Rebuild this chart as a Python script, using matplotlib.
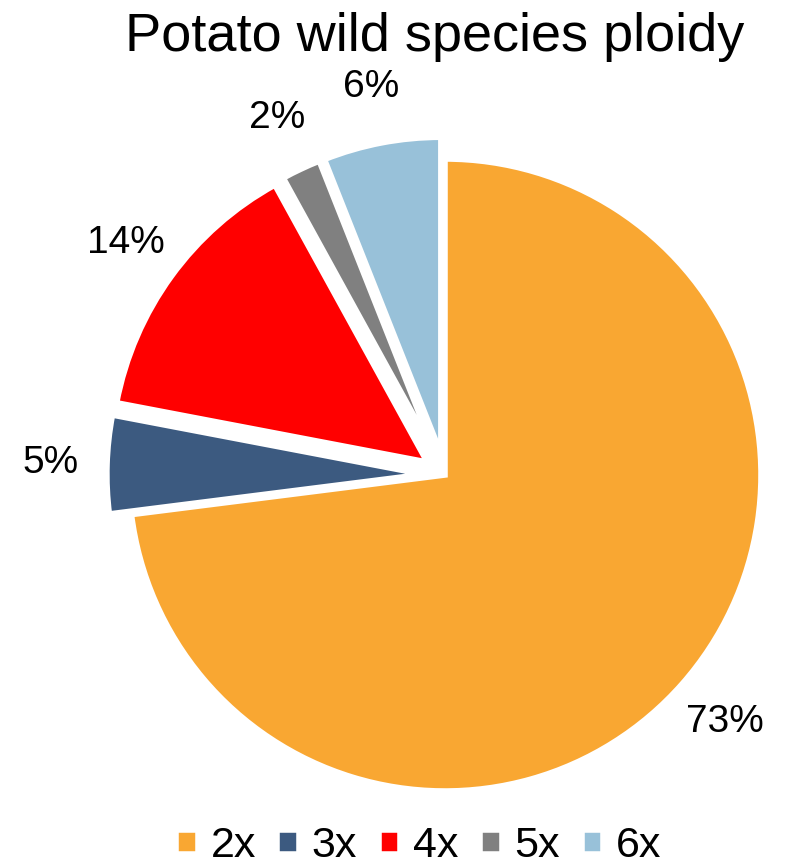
import matplotlib
matplotlib.use("Agg")
import matplotlib.pyplot as plt

# Data
labels = ["2x", "3x", "4x", "5x", "6x"]
shares = [73, 5, 14, 2, 6]
colors = ["#F9A732", "#3C5A80", "#FF0000", "#808080", "#98C1D9"]
explode = [0.0, 0.07, 0.07, 0.07, 0.07]

plt.rcParams["font.family"] = ["Liberation Sans", "DejaVu Sans"]

fig = plt.figure(figsize=(7.93, 8.66), dpi=100)

# radius 1 -> about 316 px, centre at (445, 475) px
lim = 1.3
R = 316
cx, cy = 445, 866 - 475
w = 2 * lim * R
ax = fig.add_axes([(cx - w / 2) / 793, (cy - w / 2) / 866, w / 793, w / 866])

wedges, texts, pcts = ax.pie(
    shares, colors=colors, explode=explode, startangle=90, counterclock=False,
    autopct="%.0f%%", pctdistance=1.18,
    wedgeprops=dict(edgecolor="white", linewidth=4),
    textprops=dict(fontsize=28, color="black"),
)
ax.set_xlim(-lim, lim)
ax.set_ylim(-lim, lim)
ax.set_aspect("equal")
ax.axis("off")

fig.text(0.548, 0.957, "Potato wild species ploidy", ha="center", va="center", fontsize=39)

fig.legend(wedges, labels, loc="lower center", bbox_to_anchor=(0.528, -0.045), ncol=5,
           frameon=False, fontsize=31, handlelength=0.5, handleheight=0.5,
           handletextpad=0.3, columnspacing=0.5)

fig.savefig("out.png", dpi=100)
